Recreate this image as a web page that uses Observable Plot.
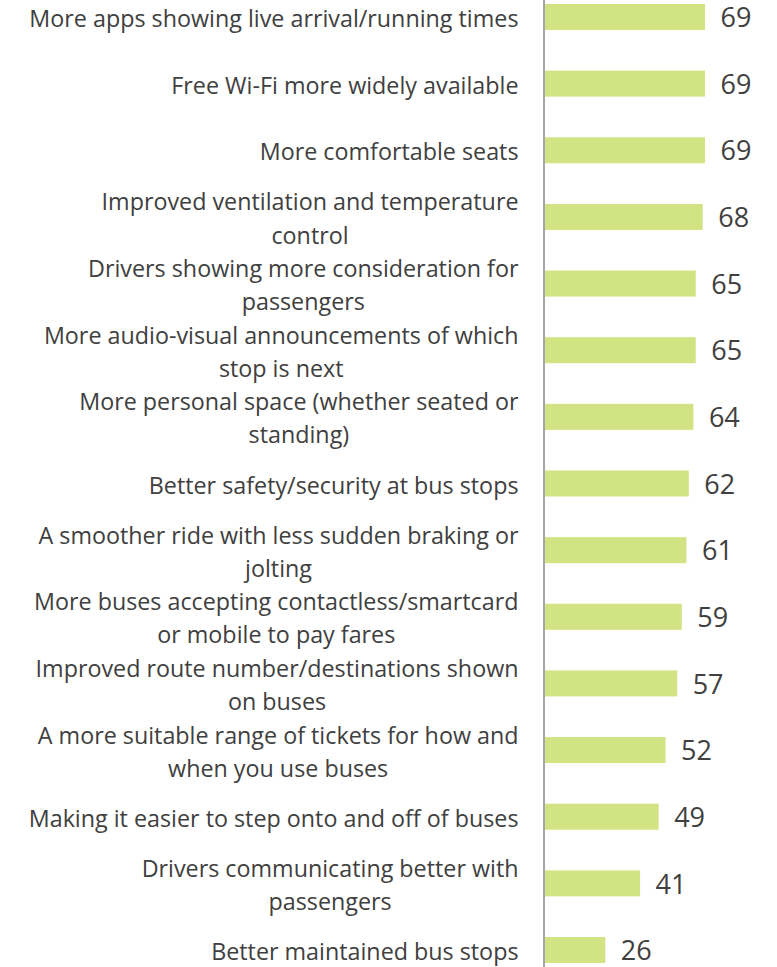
<!DOCTYPE html>
<html>
<head>
<meta charset="utf-8">
<script src="https://cdn.jsdelivr.net/npm/d3@7"></script>
<script src="https://cdn.jsdelivr.net/npm/@observablehq/plot@0.6"></script>
<style>
  html, body { margin: 0; padding: 0; background: #fff; }
  #chart svg { display: block; }
</style>
</head>
<body>
<div id="chart"></div>
<script>
const categories = [
  "More apps showing live arrival/running times",
  "Free Wi-Fi more widely available",
  "More comfortable seats",
  "Improved ventilation and temperature\ncontrol",
  "Drivers showing more consideration for\npassengers",
  "More audio-visual announcements of which\nstop is next",
  "More personal space (whether seated or\nstanding)",
  "Better safety/security at bus stops",
  "A smoother ride with less sudden braking or\njolting",
  "More buses accepting contactless/smartcard\nor mobile to pay fares",
  "Improved route number/destinations shown\non buses",
  "A more suitable range of tickets for how and\nwhen you use buses",
  "Making it easier to step onto and off of buses",
  "Drivers communicating better with\npassengers",
  "Better maintained bus stops"
];
const values = [69, 69, 69, 68, 65, 65, 64, 62, 61, 59, 57, 52, 49, 41, 26];

const data = categories.map((c, i) => ({category: c, value: values[i]}));

const chart = Plot.plot({
  width: 777,
  height: 967,
  marginLeft: 545,
  marginRight: 0,
  marginTop: 0,
  marginBottom: 0,
  style: {fontFamily: "'Open Sans', sans-serif", color: "#404040", background: "#fff"},
  x: {domain: [0, 100], range: [545, 545 + 100 * 2.319], axis: null},
  y: {domain: categories, paddingInner: 0.61, paddingOuter: 0.06, round: false, axis: null},
  marks: [
    Plot.barX(data, {x: "value", y: "category", fill: "#d1e383"}),
    Plot.ruleX([0], {stroke: "#a6a6a6", strokeWidth: 2, dx: -1.5}),
    Plot.text(data, {x: 0, y: "category", text: "category", textAnchor: "end", dx: -27, dy: -1, fontSize: 23.3, lineHeight: 1.42, fill: "#404040"}),
    Plot.text(data, {x: "value", y: "category", text: d => String(d.value), textAnchor: "start", dx: 15, dy: 1, fontSize: 27, fill: "#404040"})
  ]
});
document.getElementById("chart").appendChild(chart);

// Center wrapped lines relative to each other, keeping the block right-aligned
const labelGroup = chart.querySelectorAll('g[aria-label="text"]')[0];
labelGroup.querySelectorAll("text").forEach(t => {
  const spans = t.querySelectorAll("tspan");
  if (spans.length < 2) return;
  let maxW = 0;
  spans.forEach(s => { maxW = Math.max(maxW, s.getComputedTextLength()); });
  t.setAttribute("text-anchor", "middle");
  spans.forEach(s => s.setAttribute("x", -maxW / 2));
});
</script>
</body>
</html>
